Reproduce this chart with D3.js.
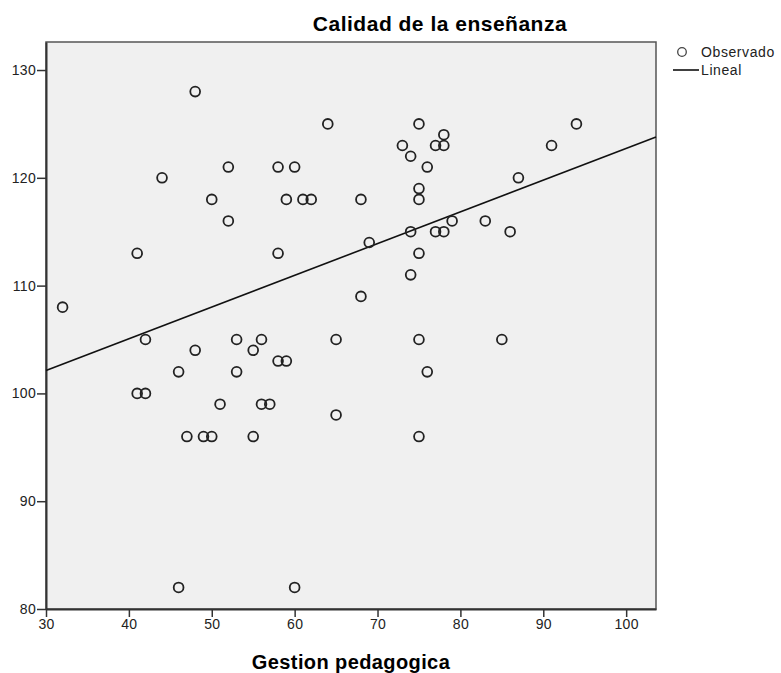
<!DOCTYPE html>
<html>
<head>
<meta charset="utf-8">
<script src="https://cdn.jsdelivr.net/npm/d3@7"></script>
<style>
  body { margin: 0; background: #fff; }
  text { font-family: "Liberation Sans", Arial, sans-serif; }
</style>
</head>
<body>
<div id="chart"></div>
<script>
// Observed cases: Gestion pedagogica (x) vs Calidad de la enseñanza (y)
var gestion = [32, 41, 44, 48, 50, 52, 52, 58, 60, 59, 61, 62, 64, 68, 69, 58, 68,
               42, 48, 46, 41, 42, 51, 47, 49, 50, 53, 56, 55, 58, 59, 53, 56, 57, 55, 65, 65, 46, 60,
               75, 73, 78, 77, 78, 74, 76, 75, 75, 74, 77, 78, 79, 83, 75, 74, 87, 91, 94, 86, 75, 85, 76, 75];
var calidad = [108, 113, 120, 128, 118, 121, 116, 121, 121, 118, 118, 118, 125, 118, 114, 113, 109,
               105, 104, 102, 100, 100, 99, 96, 96, 96, 105, 105, 104, 103, 103, 102, 99, 99, 96, 105, 98, 82, 82,
               125, 123, 124, 123, 123, 122, 121, 119, 118, 115, 115, 115, 116, 116, 113, 111, 120, 123, 125, 115, 105, 105, 102, 96];

// Linear fit as shown in the chart
var lineIntercept = 93.29;
var lineSlope = 0.2944;

var xTicks = [30, 40, 50, 60, 70, 80, 90, 100];
var yTicks = [80, 90, 100, 110, 120, 130];
var xDomain = [30, 103.6];
var yDomain = [80, 132.6];

var W = 781, H = 673;
var margin = {top: 42, right: 125, bottom: 64, left: 46};
var width = W - margin.left - margin.right,
    height = H - margin.top - margin.bottom;

var svg = d3.select("#chart").append("svg")
    .attr("width", W)
    .attr("height", H);

var g = svg.append("g")
    .attr("transform", "translate(" + margin.left + "," + margin.top + ")");

var xScale = d3.scaleLinear().domain(xDomain).range([0, width]);
var yScale = d3.scaleLinear().domain(yDomain).range([height, 0]);

// plot background + frame
g.append("rect")
  .attr("width", width)
  .attr("height", height)
  .style("fill", "#f0f0f0")
  .style("stroke", "#555")
  .style("stroke-width", 1.5);

// axes
var xAxis = d3.axisBottom(xScale).tickValues(xTicks).tickSize(8).tickSizeOuter(0).tickPadding(2);
var yAxis = d3.axisLeft(yScale).tickValues(yTicks).tickSize(9).tickSizeOuter(0).tickPadding(1);

var xg = g.append("g")
  .attr("transform", "translate(0," + height + ")")
  .call(xAxis);

var yg = g.append("g").call(yAxis);

[xg, yg].forEach(function(a) {
  a.select(".domain").style("stroke", "#333").style("stroke-width", 2);
  a.selectAll(".tick line").style("stroke", "#333").style("stroke-width", 1.5);
  a.selectAll(".tick text")
    .style("font-family", "'Liberation Sans', Arial, sans-serif")
    .style("font-size", "14px")
    .style("letter-spacing", "0.3px")
    .style("fill", "#222");
});

// regression line
g.append("line")
  .attr("x1", xScale(xDomain[0]))
  .attr("y1", yScale(lineIntercept + lineSlope * xDomain[0]))
  .attr("x2", xScale(xDomain[1]))
  .attr("y2", yScale(lineIntercept + lineSlope * xDomain[1]))
  .style("stroke", "#111")
  .style("stroke-width", 1.6);

// points
g.selectAll("circle.pt")
  .data(d3.range(gestion.length))
  .enter()
  .append("circle")
  .attr("class", "pt")
  .attr("cx", function(i) { return xScale(gestion[i]); })
  .attr("cy", function(i) { return yScale(calidad[i]); })
  .attr("r", 4.9)
  .style("fill", "none")
  .style("stroke", "#222")
  .style("stroke-width", 1.8);

// title
svg.append("text")
  .attr("x", 440)
  .attr("y", 31)
  .attr("text-anchor", "middle")
  .style("font-size", "21px")
  .style("letter-spacing", "0.5px")
  .style("font-weight", "bold")
  .text("Calidad de la enseñanza");

// x label
svg.append("text")
  .attr("x", 351)
  .attr("y", 669)
  .attr("text-anchor", "middle")
  .style("font-size", "20px")
  .style("letter-spacing", "0.4px")
  .style("font-weight", "bold")
  .text("Gestion pedagogica");

// legend
var legend = svg.append("g").attr("transform", "translate(673,0)");
legend.append("circle")
  .attr("cx", 9).attr("cy", 52)
  .attr("r", 4.3)
  .style("fill", "none")
  .style("stroke", "#444")
  .style("stroke-width", 1.3);
legend.append("text")
  .attr("x", 28).attr("y", 57)
  .style("font-size", "14px")
  .style("letter-spacing", "0.6px")
  .style("fill", "#222")
  .text("Observado");
legend.append("line")
  .attr("x1", 0).attr("x2", 26)
  .attr("y1", 70).attr("y2", 70)
  .style("stroke", "#111")
  .style("stroke-width", 1.6);
legend.append("text")
  .attr("x", 28).attr("y", 75)
  .style("font-size", "14px")
  .style("letter-spacing", "0.6px")
  .style("fill", "#222")
  .text("Lineal");
</script>
</body>
</html>
